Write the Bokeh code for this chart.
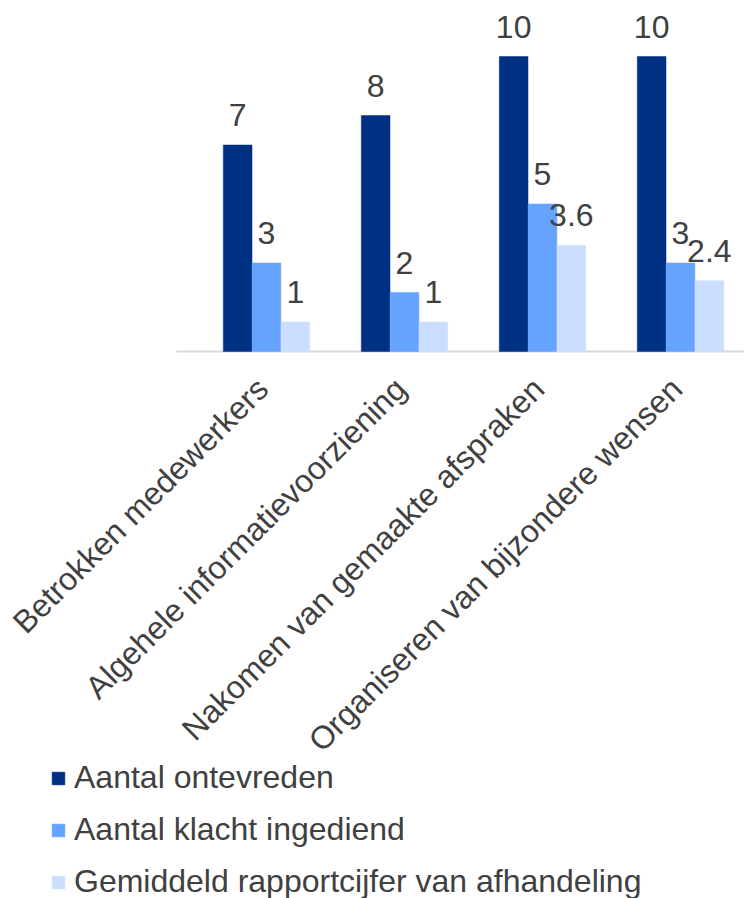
import math
from bokeh.plotting import figure
from bokeh.models import ColumnDataSource, Legend, LegendItem, Range1d
from bokeh.transform import dodge
from bokeh.embed import file_html
from bokeh.resources import INLINE

categories = [
    "Betrokken medewerkers",
    "Algehele informatievoorziening",
    "Nakomen van gemaakte afspraken",
    "Organiseren van bijzondere wensen",
]
series_names = [
    "Aantal ontevreden",
    "Aantal klacht ingediend",
    "Gemiddeld rapportcijfer van afhandeling",
]
aantal_ontevreden = [7, 8, 10, 10]
aantal_klacht = [3, 2, 5, 3]
gem_rapportcijfer = [1, 1, 3.6, 2.4]

colors = ["#003082", "#66A3FF", "#CCDEFF"]
FONT = "Liberation Sans"
TXT = "#404040"

idx = list(range(len(categories)))
series_values = [aantal_ontevreden, aantal_klacht, gem_rapportcijfer]

W, H = 744, 898
PX_X = 138.0   # pixels per category
PX_Y = 29.5    # pixels per unit
X0, Y0 = 266.0, 351.0  # pixel position of first category centre / baseline

p = figure(
    width=W, height=H,
    x_range=Range1d(-X0 / PX_X, (W - X0) / PX_X),
    y_range=Range1d(-(H - Y0) / PX_Y, Y0 / PX_Y),
    output_backend="svg", toolbar_location=None,
    x_axis_location=None, y_axis_location=None,
    min_border_left=0, min_border_right=0, min_border_top=0, min_border_bottom=0,
)
p.outline_line_color = None
p.xgrid.visible = False
p.ygrid.visible = False

# category axis line
p.segment(x0=[idx[0] - 0.652], y0=[0], x1=[idx[-1] + 1.0], y1=[0],
          line_color="#D9D9D9", line_width=2)

bw = 0.208
offsets = [-0.209, 0.0, 0.209]
renderers = []
for name, vals, col, off in zip(series_names, series_values, colors, offsets):
    src = ColumnDataSource(dict(x=idx, y=vals, lab=[f"{v:g}" for v in vals]))
    r = p.vbar(x=dodge("x", off), top="y", bottom=0, width=bw, source=src,
               fill_color=col, line_color=col, line_width=0.5)
    renderers.append(r)
    p.text(x=dodge("x", off), y="y", text="lab", source=src,
           text_align="center", text_baseline="alphabetic", y_offset=-30,
           text_font_size="32px", text_font={"value": FONT}, text_color=TXT)

# rotated category labels
cat_src = ColumnDataSource(dict(x=idx, y=[0] * len(idx), lab=categories))
p.text(x="x", y="y", text="lab", source=cat_src, angle=math.pi / 4,
       text_align="right", text_baseline="alphabetic", x_offset=-4, y_offset=32,
       text_font_size="32px", text_font={"value": FONT}, text_color=TXT)

legend = Legend(
    items=[LegendItem(label=n, renderers=[r]) for n, r in zip(series_names, renderers)],
    location=(50, -2),
    orientation="vertical",
    padding=0, margin=0, spacing=15,
    glyph_width=16, glyph_height=16, label_height=36, label_standoff=8,
    label_text_font_size="32px", label_text_font=FONT, label_text_color=TXT,
    border_line_color=None, background_fill_alpha=0,
)
p.add_layout(legend, "center")

open("out.html", "w").write(file_html(p, INLINE))
